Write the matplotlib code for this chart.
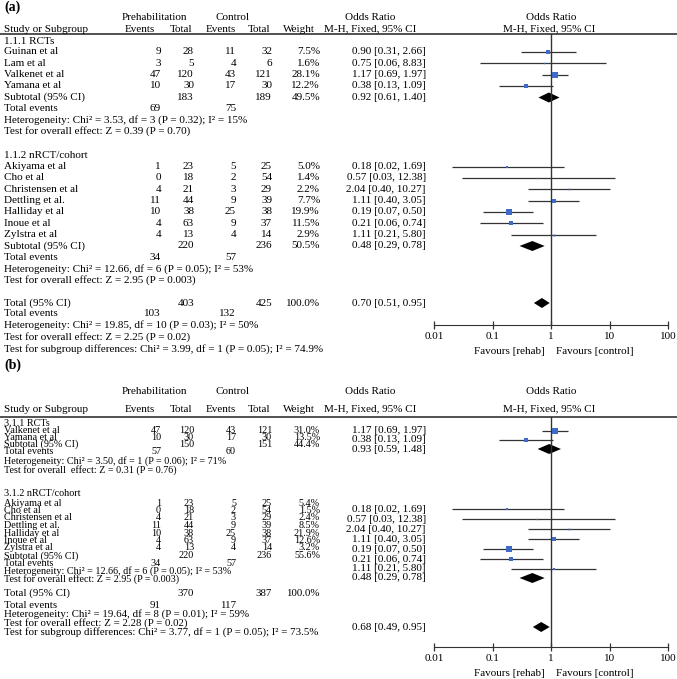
import numpy as np
import matplotlib
matplotlib.use("Agg")
import matplotlib.pyplot as plt
from matplotlib.ticker import NullLocator

plt.rcParams["font.family"] = ["Liberation Serif", "DejaVu Serif"]
plt.rcParams["font.size"] = 8

# ---------------- data: panel (a) ----------------
estudios_nrct = ["Akiyama et al", "Cho et al", "Christensen et al", "Dettling et al.",
                 "Halliday et al", "Inoue et al", "Zylstra et al"]
ev_pre_nrct = [1, 0, 4, 11, 10, 4, 4]
tot_pre_nrct = [23, 18, 21, 44, 38, 63, 13]
ev_ctl_nrct = [5, 2, 3, 9, 25, 9, 4]
tot_ctl_nrct = [25, 54, 29, 39, 38, 37, 14]
or_nrct = [0.18, 0.57, 2.04, 1.11, 0.19, 0.21, 1.11]
lo_nrct = [0.02, 0.03, 0.40, 0.40, 0.07, 0.06, 0.21]
hi_nrct = [1.69, 12.38, 10.27, 3.05, 0.50, 0.74, 5.80]

estudios_a1 = ["Guinan et al", "Lam et al", "Valkenet et al", "Yamana et al"]
ev_pre_a1 = [9, 3, 47, 10]
tot_pre_a1 = [28, 5, 120, 30]
ev_ctl_a1 = [11, 4, 43, 17]
tot_ctl_a1 = [32, 6, 121, 30]
peso_a1 = [7.5, 1.6, 28.1, 12.2]
or_a1 = [0.90, 0.75, 1.17, 0.38]
lo_a1 = [0.31, 0.06, 0.69, 0.13]
hi_a1 = [2.66, 8.83, 1.97, 1.09]
peso_a2 = [5.0, 1.4, 2.2, 7.7, 19.9, 11.5, 2.9]

# subtotal / total: [tot_pre, tot_ctl, weight, or, lo, hi, ev_pre, ev_ctl]
sub_a1 = [183, 189, 49.5, 0.92, 0.61, 1.40, 69, 75]
sub_a2 = [220, 236, 50.5, 0.48, 0.29, 0.78, 34, 57]
total_a = [403, 425, 100.0, 0.70, 0.51, 0.95, 103, 132]
txt_a1 = ["Heterogeneity: Chi² = 3.53, df = 3 (P = 0.32); I² = 15%",
          "Test for overall effect: Z = 0.39 (P = 0.70)"]
txt_a2 = ["Heterogeneity: Chi² = 12.66, df = 6 (P = 0.05); I² = 53%",
          "Test for overall effect: Z = 2.95 (P = 0.003)"]
txt_at = ["Heterogeneity: Chi² = 19.85, df = 10 (P = 0.03); I² = 50%",
          "Test for overall effect: Z = 2.25 (P = 0.02)",
          "Test for subgroup differences: Chi² = 3.99, df = 1 (P = 0.05); I² = 74.9%"]

# ---------------- data: panel (b) ----------------
estudios_b1 = ["Valkenet et al", "Yamana et al"]
ev_pre_b1 = [47, 10]
tot_pre_b1 = [120, 30]
ev_ctl_b1 = [43, 17]
tot_ctl_b1 = [121, 30]
peso_b1 = [31.0, 13.5]
or_b1 = [1.17, 0.38]
lo_b1 = [0.69, 0.13]
hi_b1 = [1.97, 1.09]
peso_b2 = [5.4, 1.5, 2.4, 8.5, 21.9, 12.6, 3.2]

sub_b1 = [150, 151, 44.4, 0.93, 0.59, 1.48, 57, 60]
sub_b2 = [220, 236, 55.6, 0.48, 0.29, 0.78, 34, 57]
total_b = [370, 387, 100.0, 0.68, 0.49, 0.95, 91, 117]
txt_b1 = ["Heterogeneity: Chi² = 3.50, df = 1 (P = 0.06); I² = 71%",
          "Test for overall  effect: Z = 0.31 (P = 0.76)"]
txt_b2 = txt_a2
txt_bt = ["Heterogeneity: Chi² = 19.64, df = 8 (P = 0.01); I² = 59%",
          "Test for overall effect: Z = 2.28 (P = 0.02)",
          "Test for subgroup differences: Chi² = 3.77, df = 1 (P = 0.05); I² = 73.5%"]

ticks = [0.01, 0.1, 1, 10, 100]
tick_labels = ["0.01", "0.1", "1", "10", "100"]

# ---------------- layout ----------------
W, H = 677, 679
fig = plt.figure(figsize=(W / 100, H / 100), dpi=100)
bg = fig.add_axes([0, 0, 1, 1])
bg.set_xlim(0, W)
bg.set_ylim(H, 0)
bg.axis("off")

X_NAME, X_EP, X_TP, X_EC, X_TC, X_W, X_OR = 4, 161, 194, 236, 272, 320, 426
AZUL = "#3E6BC9"
LINEA = "#333333"


def fmt_or(o, l, h):
    return f"{o:.2f} [{l:.2f}, {h:.2f}]"


def build_rows(titulo1, g1, sub1, t1, titulo2, g2, sub2, t2, tot, tt):
    rows = [("text", titulo1)]
    rows += [("study",) + r for r in zip(*g1)]
    rows += [("sub", "Subtotal (95% CI)", sub1), ("events", sub1), ("text", t1[0]), ("text", t1[1]),
             ("text", titulo2)]
    rows += [("study",) + r for r in zip(*g2)]
    rows += [("sub", "Subtotal (95% CI)", sub2), ("events", sub2), ("text", t2[0]), ("text", t2[1]),
             ("sub", "Total (95% CI)", tot), ("events", tot), ("text", tt[0]), ("text", tt[1]),
             ("text", tt[2])]
    return rows


def draw_panel(label, y_label, y_h1, y_h2, y_line, y_axis, rows, y_left, y_right, dh,
               y_fav, sizes):
    bg.text(4, y_label, label, fontsize=10, fontweight="bold", va="center")
    bg.text(122, y_h1, "Prehabilitation", va="center")
    bg.text(216, y_h1, "Control", va="center")
    bg.text(X_NAME, y_h2, "Study or Subgroup", va="center")
    for x, s in [(140, "Events"), (181, "Total"), (221, "Events"), (259, "Total"), (299, "Weight")]:
        bg.text(x, y_h2, s, ha="center", va="center")
    bg.text(370, y_h1 + 1, "Odds Ratio", ha="center", va="center")
    bg.text(370, y_h2, "M-H, Fixed, 95% CI", ha="center", va="center")
    bg.text(551, y_h1 + 1, "Odds Ratio", ha="center", va="center")
    bg.text(549, y_h2, "M-H, Fixed, 95% CI", ha="center", va="center")
    bg.plot([0, W], [y_line, y_line], color=LINEA, lw=1.2)

    fa = fig.add_axes([434 / W, (H - y_axis) / H, 234 / W, (y_axis - y_line) / H])
    fa.set_xscale("log")
    fa.set_xlim(0.01, 100)
    fa.set_ylim(y_axis, y_line)
    fa.patch.set_alpha(0)
    for s in ["top", "left", "right"]:
        fa.spines[s].set_visible(False)
    fa.spines["bottom"].set_color(LINEA)
    fa.set_yticks([])
    fa.set_xticks(ticks)
    fa.set_xticklabels(tick_labels)
    fa.xaxis.set_minor_locator(NullLocator())
    fa.tick_params(axis="x", direction="inout", length=5.5, width=0.9, color=LINEA,
                   pad=2.5, labelsize=8)
    fa.axvline(1, color=LINEA, lw=1)

    for row, yl, yr, fs in zip(rows, y_left, y_right, sizes):
        kind = row[0]
        if kind == "text":
            bg.text(X_NAME, yl, row[1], va="center", fontsize=fs)
        elif kind == "study":
            name, ep, tp, ec, tc, w, o, l, h = row[1:]
            bg.text(X_NAME, yl, name, va="center", fontsize=fs)
            for x, v in [(X_EP, ep), (X_TP, tp), (X_EC, ec), (X_TC, tc)]:
                bg.text(x, yl, str(v), ha="right", va="center", fontsize=fs)
            bg.text(X_W, yl, f"{w:.1f}%", ha="right", va="center", fontsize=fs)
            bg.text(X_OR, yr, fmt_or(o, l, h), ha="right", va="center")
            fa.plot([l, h], [yr, yr], color=LINEA, lw=0.9, solid_capstyle="butt")
            lado = max(1.13 * np.sqrt(w), 1.3) * 0.72
            fa.plot([o], [yr], marker="s", ms=lado, color=AZUL, mec=AZUL, mew=0, ls="none")
        elif kind == "sub":
            tp, tc, w, o, l, h = row[2][:6]
            bg.text(X_NAME, yl, row[1], va="center", fontsize=fs)
            bg.text(X_TP, yl, str(tp), ha="right", va="center", fontsize=fs)
            bg.text(X_TC, yl, str(tc), ha="right", va="center", fontsize=fs)
            bg.text(X_W, yl, f"{w:.1f}%", ha="right", va="center", fontsize=fs)
            bg.text(X_OR, yr, fmt_or(o, l, h), ha="right", va="center")
            fa.fill([l, o, h, o], [yr, yr - dh, yr, yr + dh], color="black", lw=0)
        elif kind == "events":
            bg.text(X_NAME, yl, "Total events", va="center", fontsize=fs)
            bg.text(X_EP, yl, str(row[1][6]), ha="right", va="center", fontsize=fs)
            bg.text(X_EC, yl, str(row[1][7]), ha="right", va="center", fontsize=fs)

    bg.text(545, y_fav, "Favours [rehab]", ha="right", va="center")
    bg.text(556, y_fav, "Favours [control]", ha="left", va="center")


# panel (a)
rows_a = build_rows("1.1.1 RCTs",
                    [estudios_a1, ev_pre_a1, tot_pre_a1, ev_ctl_a1, tot_ctl_a1, peso_a1, or_a1, lo_a1, hi_a1],
                    sub_a1, txt_a1, "1.1.2 nRCT/cohort",
                    [estudios_nrct, ev_pre_nrct, tot_pre_nrct, ev_ctl_nrct, tot_ctl_nrct, peso_a2,
                     or_nrct, lo_nrct, hi_nrct],
                    sub_a2, txt_a2, total_a, txt_at)
ya = [41, 52, 63, 74.5, 86, 97.5, 108.5, 120, 131.5,
      155, 166.5, 177.5, 189, 200.5, 212, 223, 234.5, 246, 257.5, 269, 280.5,
      303, 314, 325, 337, 349]
draw_panel("(a)", 7, 17, 29, 34, 325, rows_a, ya, ya, 5, 351, [8] * len(rows_a))

# panel (b): left text rows are packed tighter than the plot rows
rows_b = build_rows("3.1.1 RCTs",
                    [estudios_b1, ev_pre_b1, tot_pre_b1, ev_ctl_b1, tot_ctl_b1, peso_b1, or_b1, lo_b1, hi_b1],
                    sub_b1, txt_b1, "3.1.2 nRCT/cohort",
                    [estudios_nrct, ev_pre_nrct, tot_pre_nrct, ev_ctl_nrct, tot_ctl_nrct, peso_b2,
                     or_nrct, lo_nrct, hi_nrct],
                    sub_b2, txt_b2, total_b, txt_bt)
yb_left = [423, 430.5, 437.5, 444.5, 452, 461, 470,
           493, 503, 510.5, 518, 525.5, 533, 540.5, 548, 556, 564, 571.5, 579,
           593, 605, 614, 623, 632]
yb_right = [423, 430.5, 440, 449, 452, 461, 470,
            493, 509, 519, 529, 539, 549, 559, 568.5, 578, 564, 571.5, 579,
            627, 605, 614, 623, 632]
sizes_b = [7.3] * 19 + [7.8] * 5
draw_panel("(b)", 365, 391, 409, 417, 647, rows_b, yb_left, yb_right, 5, 673, sizes_b)

fig.savefig("out.png", dpi=100)
